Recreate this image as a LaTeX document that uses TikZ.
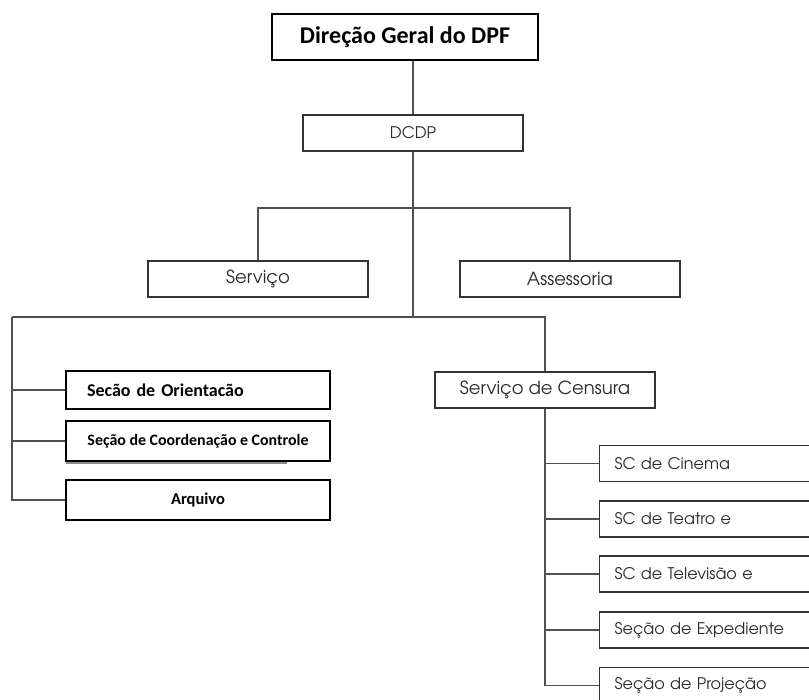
\documentclass[tikz,border=0pt]{standalone}
\usepackage{fontspec}
\usepackage{tikz}
\usetikzlibrary{calc}
\newfontfamily\calibri{Carlito}
\newfontfamily\gotica{TeX Gyre Adventor}
\newcommand{\tam}[1]{\fontsize{#1}{#1}\selectfont}
\definecolor{linha}{HTML}{505050}
\definecolor{textogotico}{HTML}{2A2A2A}
\tikzset{
	chefe/.style={draw, line width=1.8pt, fill=white, font=\calibri\bfseries\tam{24}, minimum width=266pt, minimum height=46pt},
	caixa/.style={draw=black!80, line width=1.3pt, fill=white, text=textogotico, font=\gotica\tam{18}, minimum width=220pt, minimum height=36pt},
	secao/.style={draw, line width=1.6pt, fill=white, font=\calibri\bfseries\tam{16.5}, minimum width=264pt, minimum height=38pt},
	subsecao/.style={caixa, font=\gotica\tam{16}, anchor=west, text width=220pt, inner xsep=15pt, align=left},
	ligacao/.style={draw=linha, line width=1.4pt}
}
\begin{document}
\begin{tikzpicture}[x=1pt,y=-1pt]
	\useasboundingbox (0,0) rectangle (809,700);
	\clip (0,0) rectangle (809,700);
	\node[chefe](dg) at (405,37) {Direção Geral do DPF};
	\node[caixa, font=\gotica\tam{16}](dcdp) at (413,133) {DCDP};
	\node[caixa](serv) at (258,279) {Serviço};
	\node[caixa](asse) at (570,279) {Assessoria};
	\node[caixa](cens) at (545,390) {Serviço de Censura};
	\draw[black!45, line width=2.2pt] ($(66,463)$) -- (287,463);
	\node[secao, font=\calibri\bfseries\tam{18}, text width=222pt, inner xsep=21pt, align=left](orient) at (198,390) {Secão de Orientacão};
	\node[secao, font=\calibri\bfseries\tam{15.9}, minimum height=40pt](coord) at (198,441) {Seção de Coordenação e Controle};
	\node[secao, minimum height=40pt](arq) at (198,500) {Arquivo};
	\node[subsecao](cine) at (599,463.5) {SC de Cinema};
	\node[subsecao](teat) at (599,519) {SC de Teatro e};
	\node[subsecao](telev) at (599,574) {SC de Televisão e};
	\node[subsecao](exped) at (599,630) {Seção de Expediente};
	\node[subsecao](proj) at (599,685.5) {Seção de Projeção};
	\coordinate (ramo1) at (413,208);
	\coordinate (ramo2) at (413,317);
	\coordinate (esq) at (12,317);
	\draw[ligacao] (dcdp.north) -- (dcdp.north |- dg.south);
	\draw[ligacao] (dcdp.south) -- (ramo2);
	\draw[ligacao] (serv.north) |- (ramo1) -| (asse.north);
	\draw[ligacao] (esq) -- (ramo2) -| (cens.north);
	\draw[ligacao] (esq) |- (arq.west);
	\foreach \n in {orient,coord}
		\draw[ligacao] (esq |- \n.west) -- (\n.west);
	\draw[ligacao] (cens.south) |- (proj.west);
	\foreach \n in {cine,teat,telev,exped}
		\draw[ligacao] (cens.south |- \n.west) -- (\n.west);
\end{tikzpicture}
\end{document}
